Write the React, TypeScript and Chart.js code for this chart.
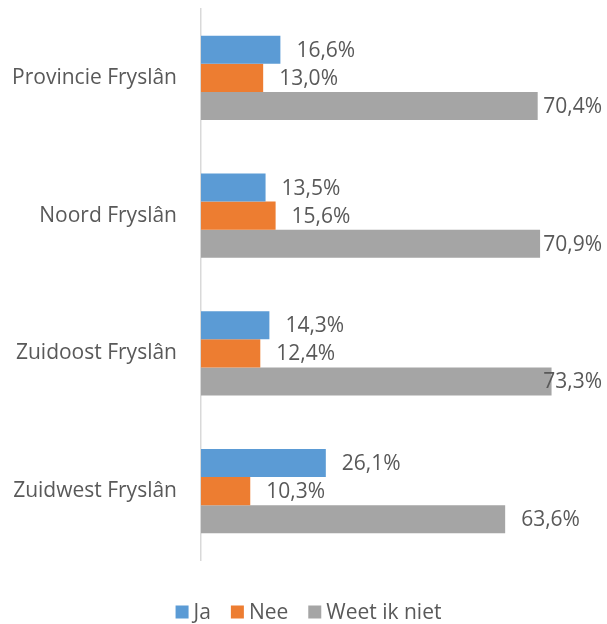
import React, { useEffect, useRef } from "react";
import { Chart, registerables } from "chart.js";

Chart.register(...registerables);

const categories = ["Provincie Fryslân", "Noord Fryslân", "Zuidoost Fryslân", "Zuidwest Fryslân"];
const seriesNames = ["Ja", "Nee", "Weet ik niet"];
const jaValues = [16.6, 13.5, 14.3, 26.1];
const neeValues = [13.0, 15.6, 12.4, 10.3];
const weetValues = [70.4, 70.9, 73.3, 63.6];
const seriesColors = ["#5B9BD5", "#ED7D31", "#A5A5A5"];
const axisMax = 80;

const FONT = "'Open Sans', sans-serif";
const TEXT_COLOR = "#595959";
const FONT_SIZE = 21;

const fmt = (v: number) => v.toFixed(1).replace(".", ",") + "%";

const valueLabels = {
  id: "valueLabels",
  afterDatasetsDraw(chart: any) {
    const ctx = chart.ctx;
    ctx.save();
    ctx.font = `${FONT_SIZE}px ${FONT}`;
    ctx.fillStyle = TEXT_COLOR;
    ctx.textBaseline = "middle";
    ctx.textAlign = "left";
    chart.data.datasets.forEach((ds: any, di: number) => {
      const meta = chart.getDatasetMeta(di);
      meta.data.forEach((el: any, i: number) => {
        const txt = fmt(ds.data[i]);
        const w = ctx.measureText(txt).width;
        const x = Math.min(el.x + 16, 602 - w);
        ctx.fillText(txt, x, el.y + 1);
      });
    });
    ctx.restore();
  },
};

const customLegend = {
  id: "customLegend",
  afterDraw(chart: any) {
    const ctx = chart.ctx;
    ctx.save();
    ctx.font = `${FONT_SIZE}px ${FONT}`;
    ctx.textBaseline = "middle";
    ctx.textAlign = "left";
    const box = 13;
    const gapBoxText = 5;
    const gapItems = 20;
    const widths = seriesNames.map((n) => box + gapBoxText + ctx.measureText(n).width);
    const total = widths.reduce((a, b) => a + b, 0) + gapItems * (seriesNames.length - 1);
    let x = 308.5 - total / 2;
    const cy = 612;
    seriesNames.forEach((n, i) => {
      ctx.fillStyle = seriesColors[i];
      ctx.fillRect(x, cy - box / 2, box, box);
      ctx.fillStyle = TEXT_COLOR;
      ctx.fillText(n, x + box + gapBoxText, cy + 1);
      x += widths[i] + gapItems;
    });
    ctx.restore();
  },
};

export default function App() {
  const ref = useRef<HTMLCanvasElement | null>(null);
  useEffect(() => {
    if (!ref.current) return;
    const chart = new Chart(ref.current, {
      type: "bar",
      data: {
        labels: categories,
        datasets: [
          { label: seriesNames[0], data: jaValues, backgroundColor: seriesColors[0] },
          { label: seriesNames[1], data: neeValues, backgroundColor: seriesColors[1] },
          { label: seriesNames[2], data: weetValues, backgroundColor: seriesColors[2] },
        ],
      },
      options: {
        indexAxis: "y",
        animation: false,
        responsive: false,
        maintainAspectRatio: false,
        layout: { padding: { left: 0, right: 23.4, top: 9, bottom: 64 } },
        datasets: { bar: { barPercentage: 1, categoryPercentage: 0.61 } },
        plugins: {
          legend: { display: false },
          tooltip: { enabled: false },
        },
        scales: {
          x: { display: false, min: 0, max: axisMax },
          y: {
            afterFit: (scale: any) => {
              scale.width = 201;
              scale.paddingTop = 0;
              scale.paddingBottom = 0;
            },
            grid: { display: false, drawTicks: false },
            border: { display: true, color: "#D9D9D9", width: 1.5 },
            ticks: {
              padding: 24,
              color: TEXT_COLOR,
              font: { family: FONT, size: FONT_SIZE },
            },
          },
        },
      },
      plugins: [valueLabels, customLegend],
    });
    return () => chart.destroy();
  }, []);
  return (
    <div style={{ position: "fixed", left: 0, top: 0, width: 607, height: 624, background: "#fff" }}>
      <canvas ref={ref} width={607} height={624} style={{ width: 607, height: 624, display: "block" }} />
    </div>
  );
}
